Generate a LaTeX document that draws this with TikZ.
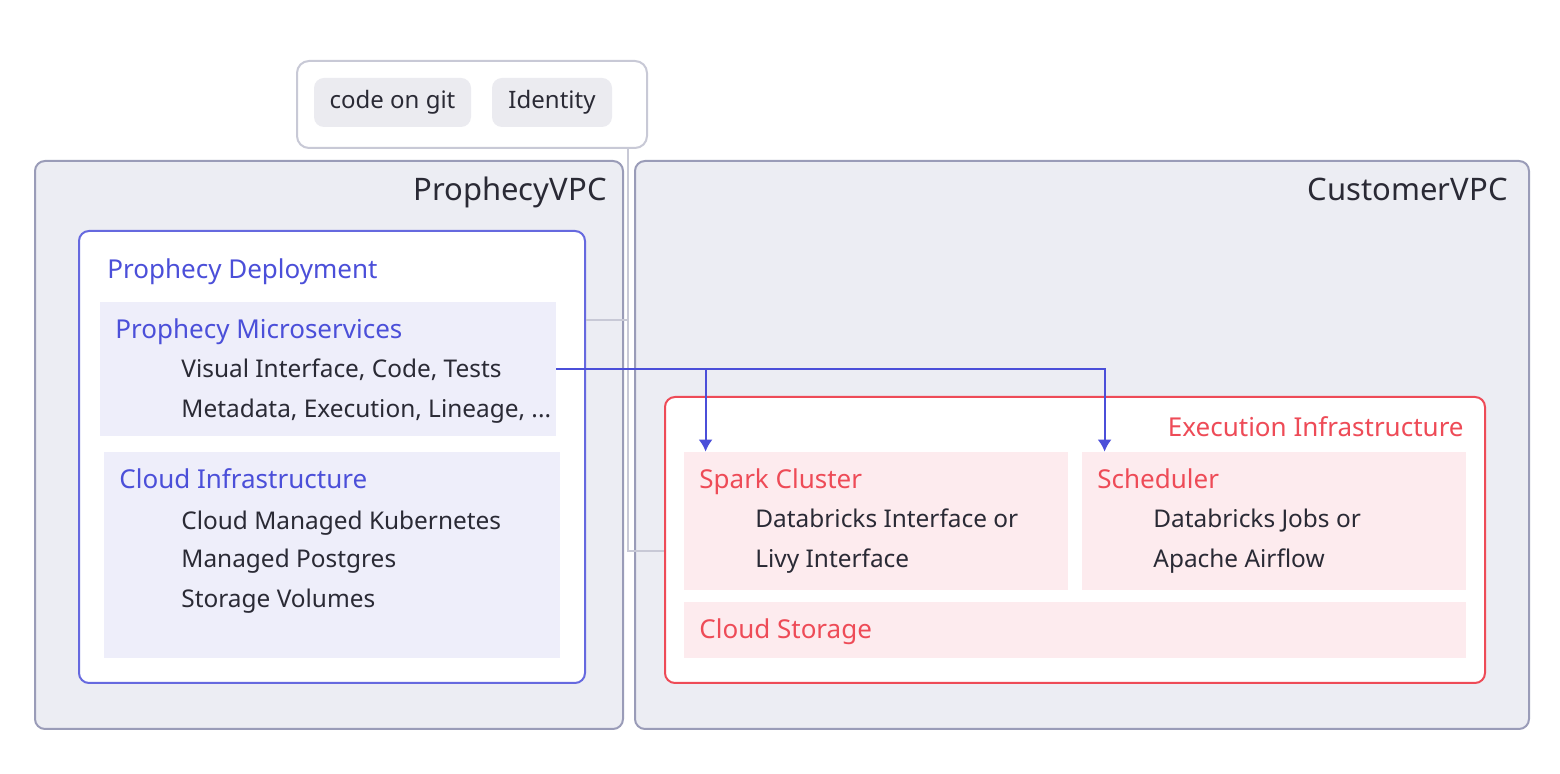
\documentclass[tikz,border=0pt]{standalone}
\usepackage{fontspec}
\setmainfont{Noto Sans}
\usepackage{tikz}
\usetikzlibrary{positioning, arrows.meta}
\definecolor{vpcfill}{HTML}{ECEDF3}
\definecolor{vpcline}{HTML}{9A9CB8}
\definecolor{pillfill}{HTML}{EBEBF0}
\definecolor{linkgray}{HTML}{C8C9D6}
\definecolor{deepblue}{HTML}{4B4FD9}
\definecolor{paleblue}{HTML}{EEEEFA}
\definecolor{deepred}{HTML}{EE4B57}
\definecolor{palered}{HTML}{FDEBEE}
\definecolor{ink}{HTML}{2A2A35}
\tikzset{vpc/.style = {draw=vpcline, fill=vpcfill, line width=1pt, rounded corners=5pt}}
\tikzset{gitbox/.style = {draw=linkgray, fill=white, line width=1pt, rounded corners=6pt}}
\tikzset{pill/.style = {fill=pillfill, rounded corners=5pt, text=ink, text height=9pt, text depth=2.5pt, font=\fontsize{12}{14}\selectfont}}
\tikzset{deploybox/.style = {draw=deepblue!85, fill=white, line width=1pt, rounded corners=5pt}}
\tikzset{bluepanel/.style = {fill=paleblue}}
\tikzset{execbox/.style = {draw=deepred, fill=white, line width=1pt, rounded corners=5pt}}
\tikzset{redpanel/.style = {fill=palered}}
\tikzset{vpctitle/.style = {anchor=east, inner sep=0pt, text height=11pt, text depth=3pt, text=ink, font=\fontsize{15.5}{17}\selectfont}}
\tikzset{bluetitle/.style = {anchor=west, inner sep=0pt, text height=9.5pt, text depth=2.5pt, text=deepblue, font=\fontsize{13}{15}\selectfont}}
\tikzset{redtitle/.style = {anchor=west, inner sep=0pt, text height=9.5pt, text depth=2.5pt, text=deepred, font=\fontsize{13}{15}\selectfont}}
\tikzset{item/.style = {anchor=west, inner sep=0pt, text height=9pt, text depth=2.5pt, text=ink, font=\fontsize{12.2}{14}\selectfont}}
\tikzset{link/.style = {draw=linkgray, line width=0.75pt}}
\tikzset{flow/.style = {draw=deepblue, line width=1pt}}

\begin{document}
\begin{tikzpicture}[x=0.5pt, y=-0.5pt, >={Latex[length=6pt, width=7pt]}]
  \useasboundingbox (0,0) rectangle (1560,774);

  % git and identity on top
  \node [gitbox, minimum width=175pt, minimum height=43.5pt] (git) at (472,104.5) {};
  \node [pill, minimum width=78.5pt, minimum height=24.5pt] (codegit) at (392.5,102.5) {code on git};
  \node [pill, minimum width=60pt, minimum height=24.5pt] (identity) at (552,102.5) {Identity};

  % the two VPCs
  \node [vpc, minimum width=294pt, minimum height=284pt] (pvpc) at (329,445) {};
  \node [vpc, minimum width=447pt, minimum height=284pt] (cvpc) at (1082,445) {};
  \node [vpctitle] (pvpclabel) at (607,193) {ProphecyVPC};
  \node [vpctitle] (cvpclabel) at (1508,193) {CustomerVPC};

  % Prophecy side
  \node [deploybox, minimum width=253pt, minimum height=226pt] (deploy) at (332,457) {};
  \node [bluetitle] (deploylabel) at (107,272) {Prophecy Deployment};
  \node [bluepanel, minimum width=228pt, minimum height=67pt] (micro) at (328,369) {};
  \node [bluetitle] (microlabel) at (115,332) {Prophecy Microservices};
  \node [item] (ui) at (181,371) {Visual Interface, Code, Tests};
  \node [item] (meta) at (181,411) {Metadata, Execution, Lineage, ...};
  \node [bluepanel, minimum width=228pt, minimum height=103pt] (cloudinfra) at (332,555) {};
  \node [bluetitle] (cloudlabel) at (119,482) {Cloud Infrastructure};
  \node [item] (k8s) at (181,523) {Cloud Managed Kubernetes};
  \node [item] (pg) at (181,561) {Managed Postgres};
  \node [item] (vol) at (181,601) {Storage Volumes};

  % Customer side
  \node [execbox, minimum width=410pt, minimum height=143pt] (exec) at (1075,540) {};
  \node [redtitle, anchor=east] (execlabel) at (1464,430) {Execution Infrastructure};
  \node [redpanel, minimum width=192pt, minimum height=69pt] (spark) at (876,521) {};
  \node [redtitle] (sparklabel) at (699,482) {Spark Cluster};
  \node [item] (dbx) at (755,521) {Databricks Interface or};
  \node [item] (livy) at (755,561) {Livy Interface};
  \node [redpanel, minimum width=192pt, minimum height=69pt] (sched) at (1274,521) {};
  \node [redtitle] (schedlabel) at (1097,482) {Scheduler};
  \node [item] (jobs) at (1153,521) {Databricks Jobs or};
  \node [item] (airflow) at (1153,561) {Apache Airflow};
  \node [redpanel, minimum width=391pt, minimum height=28pt] (storage) at (1075,630) {};
  \node [redtitle] (storagelabel) at (699,632) {Cloud Storage};

  % connectors
  \coordinate (tap) at ([xshift=78pt]git.south);
  \coordinate (depout) at ([yshift=68.5pt]deploy.east);
  \draw [link] (tap) |- ([yshift=-5.5pt]exec.west);
  \draw [link] (depout) -- (depout -| tap);
  \draw [flow, ->] (micro.east) -| ([xshift=11pt]spark.north west);
  \draw [flow, ->] (micro.east) -| ([xshift=11.5pt]sched.north west);
\end{tikzpicture}
\end{document}
